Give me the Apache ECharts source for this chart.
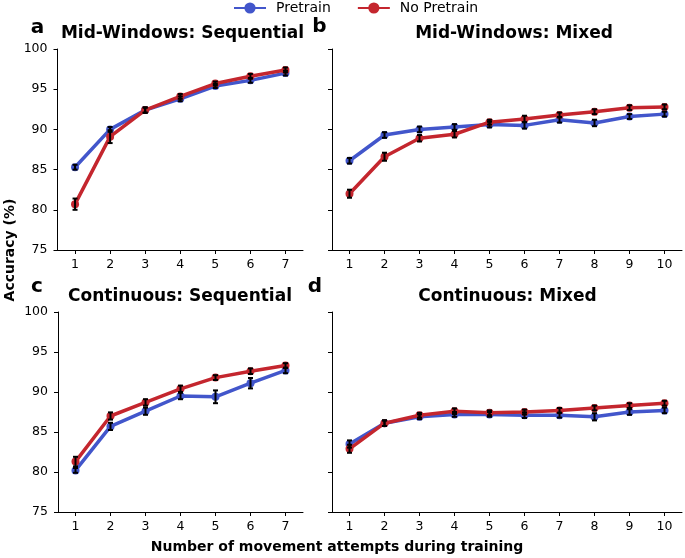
<!DOCTYPE html>
<html>
<head>
<meta charset="utf-8">
<script src="https://cdn.jsdelivr.net/npm/echarts@6/dist/echarts.min.js"></script>
<style>
html,body{margin:0;padding:0;background:#fff;}
#chart{width:685px;height:558px;}
</style>
</head>
<body>
<div id="chart"></div>
<script>
// ---- Data ----
const catsSeq = ['1','2','3','4','5','6','7'];
const catsMix = ['1','2','3','4','5','6','7','8','9','10'];
const yTicks = [75, 80, 85, 90, 95, 100];

const panelTitles = ['Mid-Windows: Sequential', 'Mid-Windows: Mixed', 'Continuous: Sequential', 'Continuous: Mixed'];
const panelLetters = ['a', 'b', 'c', 'd'];

// Panel a: Mid-Windows Sequential
const aPretrain = [85.3, 90.0, 92.4, 93.8, 95.4, 96.1, 97.0];
const aPretrainErr = [0.3, 0.3, 0.3, 0.3, 0.25, 0.3, 0.3];
const aNoPretrain = [80.7, 89.1, 92.4, 94.1, 95.7, 96.6, 97.4];
const aNoPretrainErr = [0.7, 0.8, 0.35, 0.3, 0.25, 0.3, 0.3];

// Panel b: Mid-Windows Mixed
const bPretrain = [86.1, 89.3, 90.0, 90.3, 90.6, 90.5, 91.2, 90.8, 91.6, 91.9];
const bPretrainErr = [0.35, 0.35, 0.35, 0.35, 0.35, 0.4, 0.35, 0.4, 0.3, 0.3];
const bNoPretrain = [82.0, 86.6, 88.9, 89.4, 90.9, 91.3, 91.8, 92.2, 92.7, 92.8];
const bNoPretrainErr = [0.5, 0.5, 0.4, 0.4, 0.3, 0.4, 0.3, 0.3, 0.3, 0.3];

// Panel c: Continuous Sequential
const cPretrain = [80.2, 85.7, 87.6, 89.5, 89.4, 91.1, 92.7];
const cPretrainErr = [0.3, 0.45, 0.45, 0.4, 0.8, 0.65, 0.35];
const cNoPretrain = [81.3, 87.0, 88.7, 90.4, 91.8, 92.6, 93.3];
const cNoPretrainErr = [0.6, 0.45, 0.4, 0.4, 0.3, 0.35, 0.3];

// Panel d: Continuous Mixed
const dPretrain = [83.5, 86.1, 86.9, 87.2, 87.2, 87.1, 87.1, 86.9, 87.5, 87.7];
const dPretrainErr = [0.45, 0.35, 0.3, 0.3, 0.3, 0.35, 0.3, 0.45, 0.35, 0.35];
const dNoPretrain = [82.9, 86.1, 87.1, 87.6, 87.4, 87.5, 87.7, 88.0, 88.3, 88.6];
const dNoPretrainErr = [0.5, 0.35, 0.3, 0.35, 0.3, 0.3, 0.3, 0.3, 0.3, 0.3];

// ---- Styling ----
const BLUE = '#4256cb';
const RED = '#c4262e';
const FONT = 'DejaVu Sans';

const grids = [
  {left: 57.5, top: 49, width: 245.5, height: 201},
  {left: 332, top: 49, width: 350, height: 201},
  {left: 58, top: 312, width: 245, height: 200},
  {left: 332, top: 312, width: 350, height: 200}
];
const panelCats = [catsSeq, catsMix, catsSeq, catsMix];
const panelData = [
  [aPretrain, aPretrainErr, aNoPretrain, aNoPretrainErr],
  [bPretrain, bPretrainErr, bNoPretrain, bNoPretrainErr],
  [cPretrain, cPretrainErr, cNoPretrain, cNoPretrainErr],
  [dPretrain, dPretrainErr, dNoPretrain, dNoPretrainErr]
];

const xAxes = [], yAxes = [], series = [];
grids.forEach((g, i) => {
  xAxes.push({
    type: 'category', gridIndex: i, data: panelCats[i], boundaryGap: true,
    axisLine: {show: true, lineStyle: {color: '#000', width: 1}},
    axisTick: {show: true, alignWithLabel: true, length: 4, lineStyle: {color: '#000'}},
    axisLabel: {color: '#000', fontFamily: FONT, fontSize: 12.5, margin: 8},
    splitLine: {show: false}
  });
  yAxes.push({
    type: 'value', gridIndex: i, min: yTicks[0], max: yTicks[yTicks.length - 1], interval: 5,
    axisLine: {show: true, lineStyle: {color: '#000', width: 1}},
    axisTick: {show: true, length: 4, lineStyle: {color: '#000'}},
    axisLabel: {show: (i % 2 === 0), color: '#000', fontFamily: FONT, fontSize: 12.5, margin: 10},
    splitLine: {show: false}
  });
});

function errRender(params, api) {
  const x = api.value(0), lo = api.value(1), hi = api.value(2);
  const p1 = api.coord([x, lo]);
  const p2 = api.coord([x, hi]);
  const w = 2.5;
  const st = {stroke: '#000', lineWidth: 2};
  return {
    type: 'group',
    children: [
      {type: 'line', shape: {x1: p1[0], y1: p1[1], x2: p2[0], y2: p2[1]}, style: st},
      {type: 'line', shape: {x1: p1[0] - w, y1: p1[1], x2: p1[0] + w, y2: p1[1]}, style: st},
      {type: 'line', shape: {x1: p2[0] - w, y1: p2[1], x2: p2[0] + w, y2: p2[1]}, style: st}
    ]
  };
}

panelData.forEach((pd, i) => {
  const defs = [
    {name: 'Pretrain', vals: pd[0], errs: pd[1], color: BLUE, z: 2},
    {name: 'No Pretrain', vals: pd[2], errs: pd[3], color: RED, z: 3}
  ];
  defs.forEach(d => {
    series.push({
      name: d.name, type: 'line', xAxisIndex: i, yAxisIndex: i,
      data: d.vals, symbol: 'circle', symbolSize: 8, showSymbol: true,
      lineStyle: {color: d.color, width: 3.5},
      itemStyle: {color: d.color},
      emphasis: {disabled: true}, z: d.z, animation: false
    });
  });
  defs.forEach(d => {
    series.push({
      type: 'custom', xAxisIndex: i, yAxisIndex: i,
      renderItem: errRender,
      data: d.vals.map((v, k) => [k, v - d.errs[k], v + d.errs[k]]),
      z: 5, silent: true, animation: false
    });
  });
});

const graphics = [];
const titlePos = [[182.5, 34], [514, 34], [180, 297], [507.5, 297]];
const letterPos = [[37.5, 28], [319.5, 27], [37, 287], [315, 287]];
panelTitles.forEach((t, i) => {
  graphics.push({type: 'text', x: titlePos[i][0], y: titlePos[i][1],
    style: {text: t, font: 'bold 17px "DejaVu Sans"', fill: '#000', textAlign: 'center', textVerticalAlign: 'middle'}});
  graphics.push({type: 'text', x: letterPos[i][0], y: letterPos[i][1],
    style: {text: panelLetters[i], font: 'bold 20px "DejaVu Sans"', fill: '#000', textAlign: 'center', textVerticalAlign: 'middle'}});
});
graphics.push({type: 'text', x: 337, y: 547,
  style: {text: 'Number of movement attempts during training', font: 'bold 14px "DejaVu Sans"', fill: '#000', textAlign: 'center', textVerticalAlign: 'middle'}});
graphics.push({type: 'text', x: 10, y: 250, rotation: Math.PI / 2,
  style: {text: 'Accuracy (%)', font: 'bold 14px "DejaVu Sans"', fill: '#000', textAlign: 'center', textVerticalAlign: 'middle'}});

const chart = echarts.init(document.getElementById('chart'), null, {renderer: 'canvas'});
chart.setOption({
  animation: false,
  backgroundColor: '#fff',
  textStyle: {fontFamily: FONT},
  legend: {
    data: ['Pretrain', 'No Pretrain'],
    left: 233, top: 1, padding: 0,
    itemWidth: 32, itemHeight: 14, itemGap: 26,
    textStyle: {color: '#000', fontFamily: FONT, fontSize: 14, padding: [0, 0, 0, 5]},
    selectedMode: false
  },
  grid: grids.map(g => Object.assign({containLabel: false}, g)),
  xAxis: xAxes,
  yAxis: yAxes,
  series: series,
  graphic: graphics
});
</script>
</body>
</html>
